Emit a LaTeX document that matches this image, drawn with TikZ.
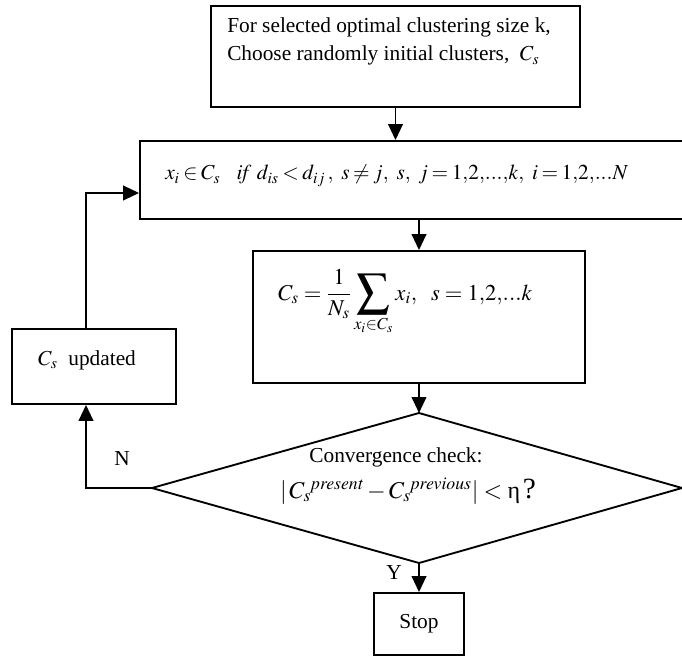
\documentclass[tikz,border=0pt]{standalone}
\usepackage{mathptmx}
\usepackage[no-math]{fontspec}
\setmainfont{Liberation Serif}
\usetikzlibrary{arrows.meta,fit}

% a larger summation sign, centred on the math axis
\newcommand{\bigsumop}{\mathop{\vcenter{\hbox{\scalebox{1.45}{$\displaystyle\sum$}}}}\limits}

\begin{document}
\begin{tikzpicture}[x=0.75pt,y=-0.75pt,
  every node/.style={font=\fontsize{16}{19}\selectfont, inner sep=0pt},
  box/.style={draw, line width=1.4pt, inner sep=0pt},
  link/.style={line width=1.4pt},
  arr/.style={line width=1.4pt, -{Triangle[length=12pt,width=11pt]}},
  txt/.style={anchor=base west},
]
\useasboundingbox (0,0) rectangle (682,656);

% process boxes
\coordinate (b1a) at (211,6);   \coordinate (b1b) at (580,107);
\node[box, fit=(b1a)(b1b)] (b1) {};
\coordinate (b2a) at (140,141); \coordinate (b2b) at (700,219);
\node[box, fit=(b2a)(b2b)] (b2) {};
\coordinate (b3a) at (253,251); \coordinate (b3b) at (585,383);
\node[box, fit=(b3a)(b3b)] (b3) {};
\coordinate (ua) at (12,329);   \coordinate (ub) at (176,404);
\node[box, fit=(ua)(ub)] (upd) {};
\coordinate (sa) at (374,593);  \coordinate (sb) at (464,655);
\node[box, fit=(sa)(sb)] (stop) {};

% decision diamond
\coordinate (dT) at (419,413);
\coordinate (dR) at (682,488);
\coordinate (dB) at (419,563);
\coordinate (dL) at (152,488);
\draw[link, line join=miter] (dT) -- (dR) -- (dB) -- (dL) -- cycle;

% texts
\node[txt] (t1a) at (227,33) {For selected optimal clustering size k,};
\node[txt] (t1b) at (227,61) {Choose randomly initial clusters,\ \ $C_s$};
\node[txt] (t2) at (165,180)
  {\thickmuskip=3mu\medmuskip=2mu$x_i \in C_s\ \ \ \mathit{if}\ d_{is} < d_{ij}\,,\ s \neq j,\ s,\ j = 1{,}2{,}...{,}k,\ i = 1{,}2{,}...N$};
\node[txt, font=\fontsize{17}{20}\selectfont] (t3) at (278,300)
  {$\displaystyle C_s = \frac{1}{N_s}\bigsumop_{x_i \in C_s} x_i,\ \ s = 1{,}2{,}...k$};
\node[txt] (tu) at (38,365) {$C_s$\ \ updated};
\node (tc1) at (396,457) {Convergence check:};
\node[anchor=base, font=\fontsize{18}{21}\selectfont] (tc2) at (408,498)
  {$|\,C_s{}^{\mathit{present}} - C_s{}^{\mathit{previous}}| < \mbox{η}\,$\fontsize{22}{24}\selectfont ?};
\node (ts) at (stop) {Stop};
\node (lN) at (122,459) {N};
\node (lY) at (394,573) {Y};

% connectors
\draw[arr] (b1.south) -- (b1.south |- b2.north);
\draw[arr] (b3.north |- b2.south) -- (b3.north);
\draw[arr] (b3.south) -- (dT);
\draw[arr] (dB) -- (stop.north);
\coordinate (nb) at (86,488);
\draw[arr] (dL) -- (nb) -- (nb |- upd.south);
\coordinate (tb) at (86,193);
\draw[arr] (tb |- upd.north) -- (tb) -- (tb -| b2.west);
\end{tikzpicture}
\end{document}
